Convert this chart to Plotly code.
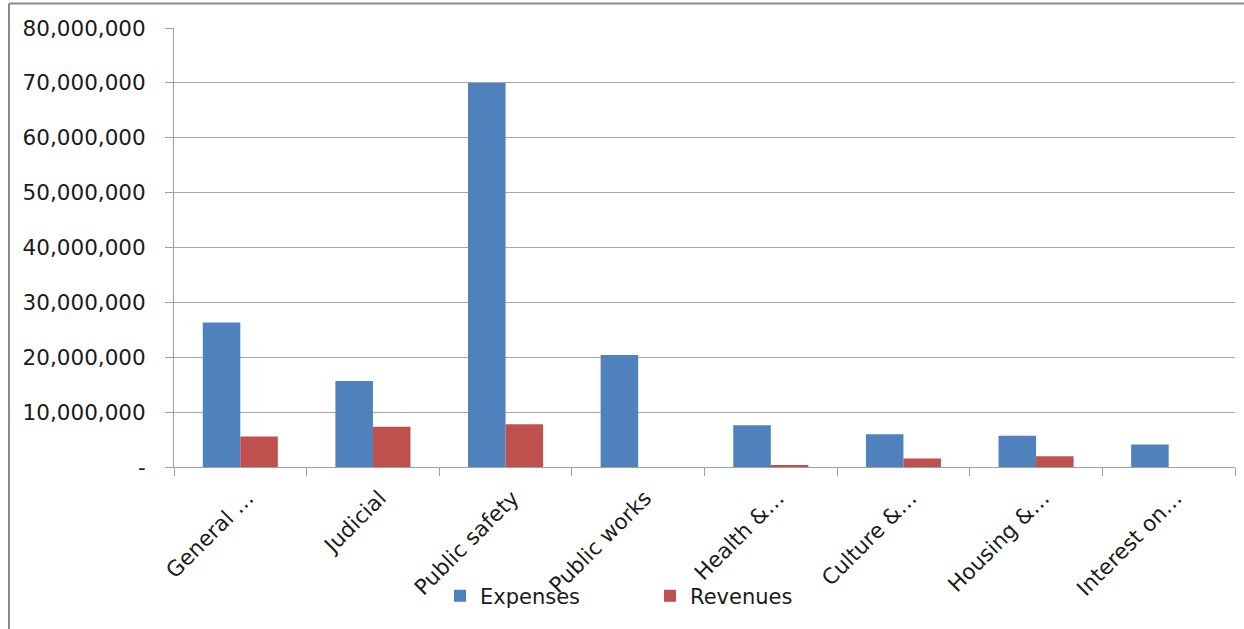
import plotly.graph_objects as go

categories = ["General …", "Judicial", "Public safety", "Public works",
              "Health &…", "Culture &…", "Housing &…", "Interest on…"]
expenses = [26350000, 15650000, 70000000, 20400000, 7600000, 5950000, 5700000, 4100000]
revenues = [5550000, 7350000, 7800000, 0, 300000, 1550000, 1950000, 0]
tick_vals = [0, 10000000, 20000000, 30000000, 40000000, 50000000, 60000000, 70000000, 80000000]
tick_text = ["-", "10,000,000", "20,000,000", "30,000,000", "40,000,000",
             "50,000,000", "60,000,000", "70,000,000", "80,000,000"]

W, H = 1244, 629
L, R, T, B = 174, 9, 28, 162
pw, ph = W - L - R, H - T - B

def px(x):
    return (x - L) / pw

def py(y):
    return (H - B - y) / ph

FONT = "DejaVu Sans"
TXT = "#1a1a1a"

fig = go.Figure()
fig.add_trace(go.Bar(name="Expenses", x=categories, y=expenses,
                     marker=dict(color="#4F81BD", line=dict(width=0))))
fig.add_trace(go.Bar(name="Revenues", x=categories, y=revenues,
                     marker=dict(color="#C0504D", line=dict(width=0))))

fig.update_layout(
    width=W, height=H,
    margin=dict(l=L, r=R, t=T, b=B, autoexpand=False),
    paper_bgcolor="white", plot_bgcolor="white",
    barmode="group", bargap=0.434, bargroupgap=0,
    font=dict(family=FONT, size=21, color=TXT),
    showlegend=True,
    legend=dict(orientation="h", x=px(650), y=py(596), xanchor="center", yanchor="middle",
                font=dict(family=FONT, size=21, color=TXT),
                bgcolor="rgba(0,0,0,0)", entrywidth=165, entrywidthmode="pixels",
                traceorder="normal"),
    xaxis=dict(type="category", tickangle=-45, showgrid=False,
               showline=True, linecolor="#a0a0a0", linewidth=1,
               ticks="outside", ticklen=8, tickcolor="#a0a0a0",
               tickson="boundaries", ticklabelstandoff=9, ticklabelshift=7,
               tickfont=dict(family=FONT, size=21.5, color=TXT)),
    yaxis=dict(range=[0, 80000000], tickvals=tick_vals, ticktext=tick_text,
               showgrid=True, gridcolor="#a6a6a6", gridwidth=1,
               showline=True, linecolor="#a0a0a0", linewidth=1,
               ticks="outside", ticklen=8, tickcolor="#a0a0a0",
               ticklabelstandoff=15, zeroline=False,
               tickfont=dict(family=FONT, size=21.5, color=TXT)),
    shapes=[
        dict(type="line", xref="paper", yref="paper", x0=px(9), x1=px(1260),
             y0=py(3.5), y1=py(3.5), line=dict(color="#8a8a8a", width=2)),
        dict(type="line", xref="paper", yref="paper", x0=px(9), x1=px(9),
             y0=py(3.5), y1=py(640), line=dict(color="#8a8a8a", width=2)),
    ],
)

fig.write_html("out.html", config={"displayModeBar": False},
               post_script="document.body.style.margin='0';document.body.style.overflow='hidden';")
